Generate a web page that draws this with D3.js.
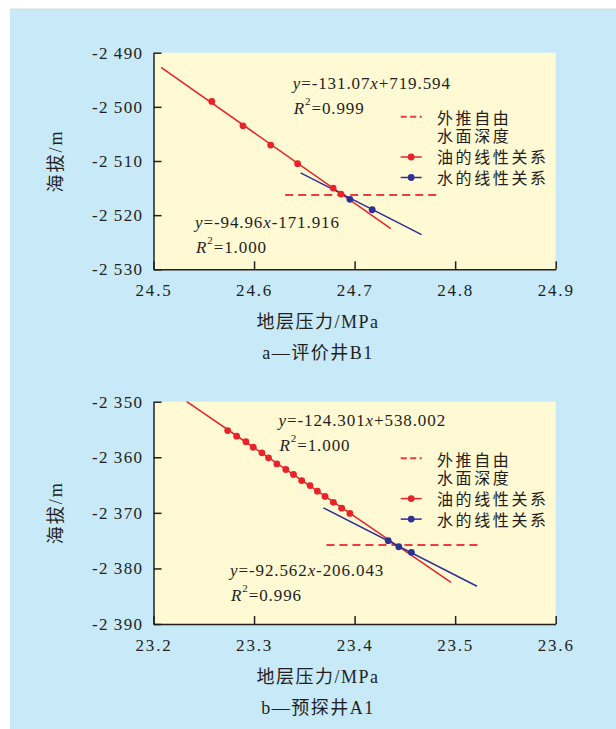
<!DOCTYPE html>
<html>
<head>
<meta charset="utf-8">
<script src="https://cdn.jsdelivr.net/npm/d3@7"></script>
<style>
  body { margin: 0; background: #fff; }
  .axis path, .axis line { stroke: #231f20; stroke-width: 1.5; }
</style>
</head>
<body>
<svg id="chart" width="616" height="729"></svg>
<script>
// ---- panel a: 评价井B1
const xTicksA = [24.5, 24.6, 24.7, 24.8, 24.9];
const yTicksA = [-2490, -2500, -2510, -2520, -2530];
const oilA = [[24.558, -2499.0], [24.589, -2503.5], [24.6165, -2507.05], [24.6433, -2510.5], [24.6787, -2515.0], [24.6864, -2516.1]];
const waterA = [[24.6953, -2517.07], [24.7175, -2519.0]];
const oilFitA = [[24.5075, -2492.7], [24.736, -2522.5]];
const waterFitA = [[24.6463, -2512.2], [24.7666, -2523.6]];
const freeWaterA = [[24.631, -2516.3], [24.782, -2516.3]];

// ---- panel b: 预探井A1
const xTicksB = [23.2, 23.3, 23.4, 23.5, 23.6];
const yTicksB = [-2350, -2360, -2370, -2380, -2390];
const oilB = [
  [23.2738, -2355.2], [23.2827, -2356.2], [23.2919, -2357.2], [23.2992, -2358.2],
  [23.3078, -2359.2], [23.3144, -2360.1], [23.3227, -2361.2], [23.3316, -2362.2],
  [23.3392, -2363.1], [23.3474, -2364.2], [23.3557, -2365.1], [23.3630, -2366.1],
  [23.3706, -2367.05], [23.3789, -2368.1], [23.3871, -2369.15], [23.3953, -2370.1]
];
const waterB = [[23.4334, -2375.0], [23.4439, -2376.1], [23.4565, -2377.1]];
const oilFitB = [[23.2331, -2350.0], [23.4959, -2382.5]];
const waterFitB = [[23.369, -2369.1], [23.5217, -2383.2]];
const freeWaterB = [[23.372, -2375.8], [23.523, -2375.8]];

const legendLabels = ['外推自由', '水面深度', '油的线性关系', '水的线性关系'];

const RED = '#e8232a';
const BLUE = '#2e3192';
const DASH_RED = '#ee3b3f';
const FONT = "'Liberation Serif', 'Times New Roman', 'Noto Sans CJK SC', serif";
const INK = '#231f20';

const svg = d3.select('#chart')
  .attr('font-family', FONT);

svg.append('rect')
  .attr('x', 10).attr('y', 9)
  .attr('width', 606).attr('height', 720)
  .attr('fill', '#c7e9f8');
svg.append('line')
  .attr('x1', 10).attr('x2', 616).attr('y1', 9).attr('y2', 9)
  .attr('stroke', '#d8d8d8').attr('stroke-width', 1);

const fmtY = d => d3.format(',')(d).replace(',', '\u2009').replace('−', '-');

function addText(x, y, size, spacing) {
  return svg.append('text')
    .attr('x', x).attr('y', y)
    .attr('font-family', FONT)
    .attr('font-size', size)
    .attr('letter-spacing', spacing)
    .attr('fill', INK);
}

function drawPanel(p) {
  const x = d3.scaleLinear().domain(d3.extent(p.xTicks)).range([153.5, 555.7]);
  const y = d3.scaleLinear().domain(d3.extent(p.yTicks)).range([p.bottom, p.top]);

  // plot background
  svg.append('rect')
    .attr('x', x.range()[0]).attr('y', p.top)
    .attr('width', x.range()[1] - x.range()[0])
    .attr('height', p.bottom - p.top)
    .attr('fill', '#fff9d4');

  // axes
  const gx = svg.append('g')
    .attr('class', 'axis')
    .attr('transform', `translate(0, ${p.bottom})`)
    .call(d3.axisBottom(x).tickValues(p.xTicks).tickFormat(d3.format('.1f'))
      .tickSizeInner(-8).tickSizeOuter(0).tickPadding(15))
    .attr('font-family', FONT);
  gx.selectAll('text')
    .attr('font-family', FONT)
    .attr('fill', INK)
    .attr('font-size', 17).attr('letter-spacing', 1.8);

  const gy = svg.append('g')
    .attr('class', 'axis')
    .attr('transform', `translate(${x.range()[0]}, 0)`)
    .call(d3.axisLeft(y).tickValues(p.yTicks).tickFormat(fmtY)
      .tickSizeInner(-8).tickSizeOuter(0).tickPadding(10))
    .attr('font-family', FONT);
  gy.selectAll('text')
    .attr('font-family', FONT)
    .attr('fill', INK)
    .attr('font-size', 17).attr('letter-spacing', 1.4);

  // axis titles
  addText(0, 0, 18, 2)
    .attr('x', null).attr('y', null)
    .attr('transform', `translate(62, ${(p.top + p.bottom) / 2}) rotate(-90)`)
    .attr('text-anchor', 'middle')
    .text('海拔/m');
  addText(318, p.bottom + 59, 18, 1.5)
    .attr('text-anchor', 'middle')
    .text('地层压力/MPa');
  addText(318, p.bottom + 90, 18, 1.5)
    .attr('text-anchor', 'middle')
    .text(p.caption);

  const line = d3.line().x(d => x(d[0])).y(d => y(d[1]));

  // free water level, fits
  svg.append('path')
    .attr('d', line(p.freeWater))
    .attr('fill', 'none').attr('stroke', DASH_RED)
    .attr('stroke-width', 2).attr('stroke-dasharray', '8,5');
  svg.append('path')
    .attr('d', line(p.oilFit))
    .attr('fill', 'none').attr('stroke', RED).attr('stroke-width', 1.5);
  svg.append('path')
    .attr('d', line(p.waterFit))
    .attr('fill', 'none').attr('stroke', BLUE).attr('stroke-width', 1.5);

  svg.append('g').selectAll('circle')
    .data(p.oil)
    .enter().append('circle')
      .attr('cx', d => x(d[0]))
      .attr('cy', d => y(d[1]))
      .attr('r', 3.4)
      .attr('fill', RED);
  svg.append('g').selectAll('circle')
    .data(p.water)
    .enter().append('circle')
      .attr('cx', d => x(d[0]))
      .attr('cy', d => y(d[1]))
      .attr('r', 3.4)
      .attr('fill', BLUE);

  // equations
  p.equations.forEach(eq => {
    const t = addText(eq.x, eq.y, 17, 0.9);
    t.append('tspan').attr('font-style', 'italic').text('y');
    t.append('tspan').text('=' + eq.a);
    t.append('tspan').attr('font-style', 'italic').text('x');
    t.append('tspan').text(eq.b);

    const r = addText(eq.x + 1, eq.y + 25, 17, 0.9);
    r.append('tspan').attr('font-style', 'italic').text('R');
    r.append('tspan').attr('font-size', 11).attr('dy', -9).text('2');
    r.append('tspan').attr('dy', 9).text('=' + eq.r2);
  });

  // legend
  const lx1 = 400.7, lx2 = 421.7, tx = 437;
  const ly = p.legendY;
  svg.append('line')
    .attr('x1', lx1).attr('x2', lx2).attr('y1', ly).attr('y2', ly)
    .attr('stroke', DASH_RED).attr('stroke-width', 2).attr('stroke-dasharray', '6,3.5');
  [[RED, ly + 40.3], [BLUE, ly + 60.8]].forEach(([c, yy]) => {
    svg.append('line')
      .attr('x1', lx1).attr('x2', lx2).attr('y1', yy).attr('y2', yy)
      .attr('stroke', c).attr('stroke-width', 1.5);
    svg.append('circle')
      .attr('cx', (lx1 + lx2) / 2).attr('cy', yy).attr('r', 3.4).attr('fill', c);
  });
  const ty = [ly + 7.5, ly + 25.5, ly + 46.3, ly + 67.3];
  legendLabels.forEach((s, i) => {
    addText(tx, ty[i], 16, 2.6).text(s);
  });
}

drawPanel({
  xTicks: xTicksA, yTicks: yTicksA, top: 52.7, bottom: 269.3,
  oil: oilA, water: waterA, oilFit: oilFitA, waterFit: waterFitA, freeWater: freeWaterA,
  caption: 'a—评价井B1',
  legendY: 116.7,
  equations: [
    { x: 292.7, y: 89, a: '-131.07', b: '+719.594', r2: '0.999' },
    { x: 195, y: 227.5, a: '-94.96', b: '-171.916', r2: '1.000' }
  ]
});

drawPanel({
  xTicks: xTicksB, yTicks: yTicksB, top: 401.7, bottom: 624,
  oil: oilB, water: waterB, oilFit: oilFitB, waterFit: waterFitB, freeWater: freeWaterB,
  caption: 'b—预探井A1',
  legendY: 458.3,
  equations: [
    { x: 278.5, y: 426, a: '-124.301', b: '+538.002', r2: '1.000' },
    { x: 230, y: 575.7, a: '-92.562', b: '-206.043', r2: '0.996' }
  ]
});
</script>
</body>
</html>
